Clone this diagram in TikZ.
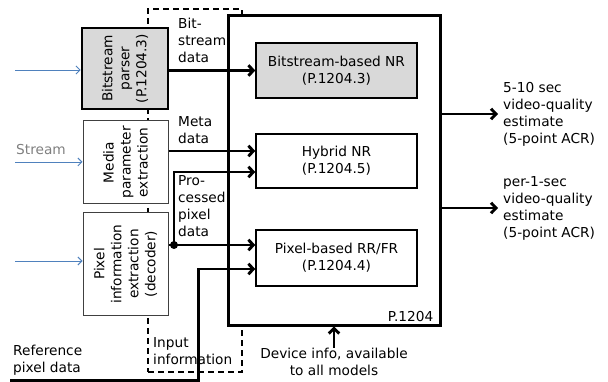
\documentclass[tikz,border=0pt]{standalone}
\usepackage{fontspec}
\setmainfont{DejaVu Sans}
\usetikzlibrary{arrows.meta, positioning, calc}
\definecolor{colBlock}{RGB}{217,217,217}
\definecolor{colIn}{RGB}{79,129,189}
\definecolor{colStream}{RGB}{128,128,128}

\begin{document}
\begin{tikzpicture}[
  x=1pt, y=-1pt,
  every node/.style={font=\fontsize{13.7}{17}\selectfont},
  srcbox/.style={rectangle, draw=black!75, line width=1pt, fill=white, rotate=90,
                 align=center, inner sep=2pt},
  model/.style={rectangle, draw, line width=1.3pt, fill=white, minimum width=161pt,
                minimum height=55pt, align=center},
  lbl/.style={inner sep=0pt, align=left},
  arr/.style={line width=2.9pt, -{Straight Barb[length=5pt,width=10.5pt]}},
  inarr/.style={colIn, line width=0.9pt, -{Straight Barb[length=4pt,width=8pt]}},
]
\useasboundingbox (0,0) rectangle (608,382);

% Input information frame and P.1204 frame
\node[draw, dashed, dash pattern=on 6pt off 4pt, line width=1.5pt, minimum width=94pt,
      minimum height=363pt, inner sep=0pt] (inputinfo) at (195,190.5) {};
\node[draw, line width=3pt, fill=white, minimum width=212pt, minimum height=309pt,
      inner sep=0pt] (p1204) at (334,170.5) {};
\node[inner sep=0pt, above left=5pt and 8pt of p1204.south east] (p1204lbl) {P.1204};

% Stream processing (rotated: south = right side, north = left side)
\node[srcbox, fill=colBlock, draw=black, line width=2.8pt, minimum width=81pt,
      minimum height=86pt] (parser) at (125,68.5) {Bitstream\\parser\\(P.1204.3)};
\node[srcbox, minimum width=83pt, minimum height=85pt] (media) at (125.5,162.5)
      {Media\\parameter\\extraction};
\node[srcbox, minimum width=102pt, minimum height=85pt] (pixel) at (125.5,264)
      {Pixel\\information\\extraction\\(decoder)};

% Models
\node[model, fill=colBlock] (bitnr) at (336.5,70.5) {Bitstream-based NR\\(P.1204.3)};
\node[model, minimum height=54pt] (hybrid) at (336.5,161) {Hybrid NR\\(P.1204.5)};
\node[model, minimum height=56pt] (pixnr) at (336.5,258) {Pixel-based RR/FR\\(P.1204.4)};

% Stream inputs
\coordinate (srcin1) at (15,70);
\coordinate (srcin2) at (15,162);
\coordinate (srcin3) at (15,261);
\draw[inarr] (srcin1) -- (srcin1 -| parser.north);
\draw[inarr] (srcin2) -- (srcin2 -| media.north);
\draw[inarr] (srcin3) -- (srcin3 -| pixel.north);
\node[text=colStream, inner sep=0pt] (streamlbl) at (41,150) {Stream};

% Data into the models
\coordinate (hybin1) at ($(hybrid.west)+(0,-10)$);
\coordinate (hybin2) at ($(hybrid.west)+(0,11)$);
\coordinate (pixin2) at ($(pixnr.west)+(0,11)$);
\coordinate (split) at (174,245);
\coordinate (refin) at (10,380.5);

\draw[arr] (parser.south |- bitnr.west) -- (bitnr.west);
\draw[arr] (media.south |- hybin1) -- (hybin1);
\draw[line width=2.9pt] (pixel.south |- split) -- (split);
\fill (split) circle (4pt);
\draw[arr] (split) -- (split -| pixnr.west);
\draw[arr] (split) |- (hybin2);
\draw[arr] (refin) -| ([xshift=-57pt]pixin2) -- (pixin2);

\node[lbl, anchor=west] (bitlbl) at (178,40) {Bit-\\stream\\data};
\node[lbl, anchor=west] (metalbl) at (178,130) {Meta\\data};
\node[lbl, anchor=west] (proclbl) at (178,206.5) {Pro-\\cessed\\pixel\\data};
\node[lbl, anchor=west] (inlbl) at (153,351) {Input\\information};
\node[lbl, anchor=west] (reflbl) at (13,360.5) {Reference\\pixel data};

% Device info
\node[inner sep=0pt, align=center] (devinfo) at (334,362) {Device info, available\\to all models};
\draw[arr] (devinfo.north) -- (devinfo.north |- p1204.south);

% Outputs
\coordinate (out1) at (498,114);
\coordinate (out2) at (498,208);
\draw[arr] (p1204.east |- out1) -- (out1);
\draw[arr] (p1204.east |- out2) -- (out2);
\node[lbl, right=5pt of out1] (est5) {5-10 sec\\video-quality\\estimate\\(5-point ACR)};
\node[lbl, right=5pt of out2] (est1) {per-1-sec\\video-quality\\estimate\\(5-point ACR)};

\end{tikzpicture}
\end{document}
